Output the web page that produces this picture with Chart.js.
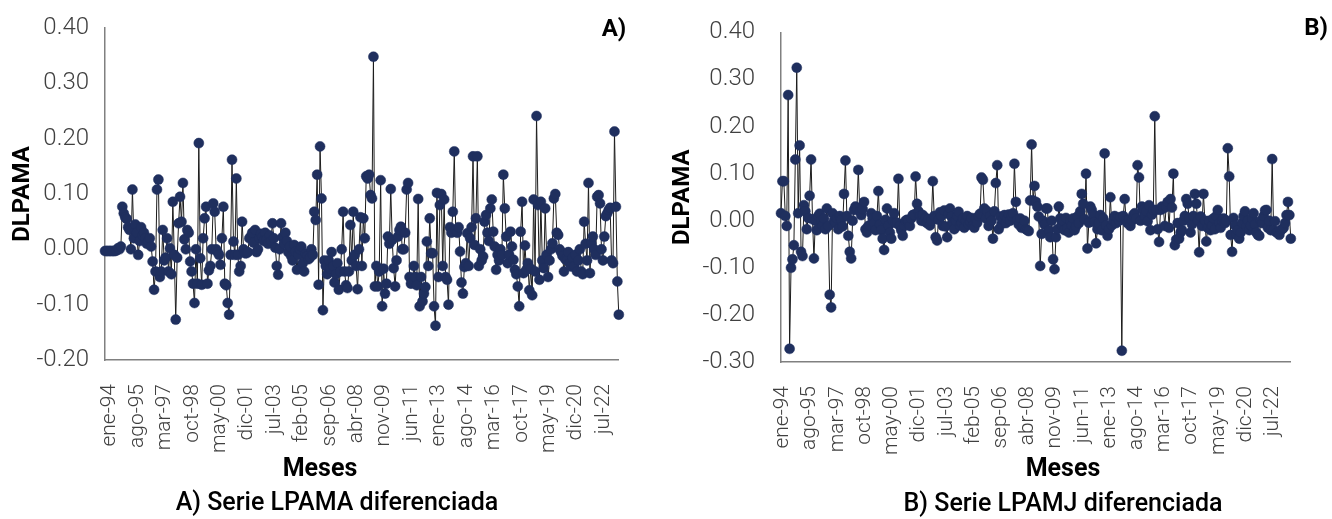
<!DOCTYPE html>
<html lang="es">
<head>
<meta charset="utf-8">
<title>Series LPAMA y LPAMJ diferenciadas</title>
<script src="https://cdn.jsdelivr.net/npm/chart.js@4.4.1/dist/chart.umd.min.js"></script>
<style>
  html, body { margin: 0; padding: 0; background: #fff; }
  body { width: 1332px; height: 519px; position: relative; overflow: hidden; font-family: Roboto, sans-serif; }
  canvas { position: absolute; top: 0; }
  #chartA { left: 0; }
  #chartB { left: 660px; }
  .txt { position: absolute; white-space: nowrap; transform: translate(-50%, -50%); color: #000; }
  .tag { font-weight: 700; font-size: 24px; }
  .meses { font-weight: 700; font-size: 25px; }
  .cap { font-weight: 500; font-size: 25px; }
</style>
</head>
<body>
<canvas id="chartA" width="660" height="519"></canvas>
<canvas id="chartB" width="672" height="519"></canvas>

<div class="txt tag" style="left:614px; top:28px;">A)</div>
<div class="txt tag" style="left:1316px; top:27px;">B)</div>
<div class="txt meses" style="left:320px; top:467px;">Meses</div>
<div class="txt meses" style="left:1063px; top:467px;">Meses</div>
<div class="txt cap" style="left:337px; top:501px;">A) Serie LPAMA diferenciada</div>
<div class="txt cap" style="left:1063px; top:502px;">B) Serie LPAMJ diferenciada</div>

<script>
// categorias: meses desde ene-94
const meses = ['ene', 'feb', 'mar', 'abr', 'may', 'jun', 'jul', 'ago', 'sep', 'oct', 'nov', 'dic'];
const anioInicio = 94;
const tickEvery = 19;

// A) serie LPAMA diferenciada
const dlpamaA = [
  -0.003, -0.003, -0.003, -0.003, -0.003, -0.003, -0.003, -0.003, -0.002, 0.002,
  0.000, 0.005, 0.077, 0.065, 0.058, 0.055, 0.040, 0.035, 0.000, 0.108,
  0.020, 0.045, 0.030, -0.010, 0.015, 0.040, 0.025, 0.030, 0.020, 0.010,
  0.015, 0.020, 0.005, -0.022, -0.073, -0.040, 0.108, 0.126, -0.050, -0.040,
  0.035, -0.020, -0.015, 0.020, -0.040, 0.002, -0.045, 0.086, -0.010, -0.127,
  -0.015, 0.047, 0.095, 0.050, 0.120, 0.018, 0.000, 0.035, 0.030, -0.022,
  -0.040, -0.062, -0.097, 0.000, -0.062, 0.192, -0.016, -0.064, 0.020, 0.056,
  0.077, -0.062, -0.038, -0.030, 0.000, 0.083, 0.068, 0.000, -0.005, -0.010,
  -0.028, 0.020, 0.077, -0.062, -0.065, -0.097, -0.118, -0.010, 0.162, 0.014,
  -0.010, 0.128, -0.010, -0.040, -0.030, 0.050, 0.000, -0.007, -0.007, -0.005,
  0.020, 0.023, 0.030, 0.012, 0.035, -0.005, 0.000, 0.020, 0.028, 0.022,
  0.015, 0.030, 0.018, 0.010, 0.025, 0.015, 0.047, 0.020, 0.003, -0.030,
  -0.046, 0.000, 0.047, 0.022, 0.010, 0.030, 0.015, -0.005, 0.005, -0.012,
  -0.020, 0.008, -0.004, -0.037, -0.010, 0.000, 0.005, -0.025, -0.040, -0.008,
  -0.012, -0.018, -0.015, 0.000, -0.010, 0.068, 0.053, 0.135, -0.064, 0.186,
  0.092, -0.110, -0.020, -0.030, -0.045, -0.020, -0.035, -0.005, -0.030, -0.060,
  -0.045, -0.025, -0.073, -0.040, 0.000, 0.068, -0.040, -0.065, -0.070, -0.040,
  0.044, -0.020, 0.068, -0.010, -0.030, -0.072, 0.000, 0.058, -0.030, 0.056,
  0.020, 0.132, 0.128, 0.135, 0.098, 0.092, 0.348, -0.067, -0.030, -0.067,
  -0.040, 0.125, -0.103, -0.035, -0.080, -0.062, 0.023, 0.010, 0.109, 0.017,
  -0.034, -0.067, -0.020, 0.023, 0.035, 0.041, 0.000, 0.000, 0.030, 0.108,
  0.120, -0.050, -0.062, -0.059, -0.030, -0.050, -0.065, 0.091, -0.103, -0.050,
  -0.094, -0.080, -0.068, 0.014, -0.030, 0.056, -0.007, -0.007, -0.103, -0.138,
  0.102, -0.050, 0.080, 0.100, -0.030, 0.090, -0.050, -0.055, -0.100, 0.040,
  0.030, 0.068, 0.177, 0.035, 0.030, 0.040, -0.004, -0.060, -0.080, -0.032,
  -0.025, 0.029, -0.030, 0.020, 0.040, 0.168, 0.008, 0.056, 0.168, -0.030,
  0.000, -0.020, -0.013, 0.050, 0.062, 0.030, 0.015, 0.074, 0.090, 0.032,
  0.005, -0.037, -0.010, -0.020, 0.000, -0.010, 0.135, 0.074, 0.023, -0.025,
  -0.010, 0.032, 0.005, -0.019, -0.037, -0.045, -0.067, -0.103, 0.032, 0.086,
  -0.043, 0.007, -0.037, -0.025, -0.074, -0.035, -0.083, 0.090, -0.040, 0.241,
  0.080, -0.055, 0.086, -0.020, -0.034, 0.074, -0.010, -0.050, -0.020, 0.000,
  0.011, 0.092, 0.100, 0.030, 0.026, 0.000, -0.005, -0.012, -0.040, -0.018,
  -0.020, -0.005, -0.025, -0.031, -0.015, -0.030, -0.010, -0.040, -0.020, 0.000,
  -0.040, -0.045, 0.050, 0.010, -0.020, 0.120, -0.043, 0.011, 0.023, 0.000,
  -0.010, 0.095, 0.098, 0.083, 0.000, -0.020, 0.023, 0.060, 0.065, 0.071,
  0.075, -0.020, -0.025, 0.213, 0.077, -0.058, -0.118
];

// B) serie LPAMJ diferenciada
const dlpamaB = [
  0.016, 0.084, 0.084, 0.010, -0.011, 0.267, -0.272, -0.100, -0.082, -0.052,
  0.130, 0.325, 0.016, 0.160, -0.066, -0.075, 0.033, 0.020, -0.018, 0.006,
  0.053, 0.130, 0.003, -0.080, 0.000, -0.020, 0.010, 0.015, 0.000, -0.010,
  0.005, -0.018, 0.026, -0.011, -0.157, -0.184, 0.016, 0.000, -0.005, 0.005,
  -0.018, 0.010, 0.002, -0.012, 0.057, 0.128, 0.010, -0.032, -0.066, -0.080,
  0.000, 0.023, 0.030, 0.026, 0.108, 0.020, 0.012, 0.025, 0.040, -0.018,
  -0.025, -0.011, -0.010, 0.016, 0.005, -0.005, -0.020, 0.010, 0.063, -0.008,
  -0.020, -0.038, -0.062, 0.002, 0.026, -0.010, -0.025, -0.038, 0.000, 0.016,
  -0.005, -0.004, 0.089, -0.011, -0.020, -0.032, -0.010, 0.000, 0.002, -0.001,
  -0.011, 0.005, 0.012, 0.013, 0.094, 0.036, 0.020, 0.010, 0.000, 0.012,
  -0.001, 0.006, -0.005, 0.003, -0.010, 0.000, 0.084, 0.010, -0.035, -0.042,
  0.002, 0.018, 0.010, -0.011, 0.022, -0.012, -0.035, 0.015, 0.026, 0.009,
  -0.004, -0.018, 0.000, 0.010, 0.019, -0.010, -0.005, 0.005, -0.015, 0.000,
  0.010, -0.008, -0.002, 0.006, -0.010, -0.015, 0.005, -0.004, 0.010, 0.015,
  0.092, 0.087, 0.026, 0.005, 0.020, -0.011, 0.010, 0.000, -0.038, 0.020,
  0.080, 0.118, -0.018, 0.009, -0.007, 0.002, 0.012, -0.005, 0.005, 0.013,
  0.000, 0.010, 0.016, 0.121, 0.040, 0.002, -0.008, 0.005, -0.015, -0.010,
  0.000, -0.018, -0.020, -0.022, 0.043, 0.162, 0.043, 0.074, 0.040, 0.030,
  0.009, -0.096, -0.028, 0.000, -0.008, 0.026, 0.026, -0.020, -0.035, 0.000,
  -0.082, -0.103, -0.035, -0.018, 0.030, 0.005, -0.010, 0.000, -0.020, 0.006,
  -0.015, -0.025, 0.000, -0.010, 0.005, -0.020, -0.012, 0.009, -0.005, 0.020,
  0.057, 0.036, 0.003, 0.100, -0.059, -0.004, 0.030, 0.023, 0.013, -0.003,
  -0.048, -0.018, -0.005, 0.012, -0.020, 0.005, 0.143, -0.010, -0.032, -0.018,
  0.050, -0.010, 0.000, 0.010, -0.005, 0.005, 0.000, 0.008, -0.276, 0.010,
  0.046, 0.000, -0.005, 0.002, -0.011, 0.000, 0.012, 0.016, 0.005, 0.118,
  0.092, 0.000, 0.030, 0.023, 0.010, 0.020, -0.001, 0.033, -0.020, 0.013,
  0.023, 0.222, 0.023, -0.018, -0.045, 0.023, 0.030, 0.026, -0.011, 0.030,
  0.040, -0.015, 0.046, 0.028, 0.100, -0.052, -0.040, -0.005, -0.038, -0.025,
  -0.020, 0.000, 0.010, 0.046, 0.036, 0.006, -0.025, -0.008, 0.010, 0.057,
  0.036, 0.000, -0.067, 0.009, -0.011, 0.057, 0.000, -0.044, -0.015, 0.000,
  -0.020, -0.010, 0.005, -0.018, 0.010, 0.023, -0.005, -0.015, 0.000, 0.005,
  -0.005, 0.000, 0.154, 0.094, -0.030, -0.066, 0.006, -0.010, -0.030, -0.020,
  -0.038, -0.025, -0.005, 0.010, 0.020, -0.012, 0.000, -0.020, -0.010, 0.005,
  0.016, -0.008, -0.025, -0.030, -0.032, 0.000, -0.005, 0.010, 0.022, 0.023,
  -0.015, 0.000, -0.020, 0.131, -0.020, -0.001, -0.025, -0.025, -0.030, -0.020,
  -0.018, -0.015, -0.005, 0.012, 0.040, 0.012, -0.038
];

const labels = dlpamaA.map((v, i) =>
  meses[i % 12] + '-' + String((anioInicio + Math.floor(i / 12)) % 100).padStart(2, '0'));

const tickFont = { family: 'Roboto', size: 24, weight: '300' };
const axisBorder = { color: '#808080', width: 1.5 };

const buildChart = (id, values, yMin, box) => {
  new Chart(document.getElementById(id), {
    type: 'line',
    data: {
      labels: labels,
      datasets: [{
        data: values,
        borderColor: '#1c1c1c',
        borderWidth: 1,
        pointRadius: 5,
        pointBackgroundColor: '#1f2f5e',
        pointBorderColor: '#1f2f5e',
        pointBorderWidth: 0.5,
        tension: 0,
        clip: false
      }]
    },
    options: {
      responsive: false,
      animation: false,
      layout: { padding: { left: 0, top: box.top, right: box.right, bottom: 39 } },
      plugins: { legend: { display: false }, tooltip: { enabled: false } },
      scales: {
        x: {
          grid: { display: false },
          border: axisBorder,
          ticks: {
            autoSkip: false,
            minRotation: 90,
            maxRotation: 90,
            padding: 16,
            labelOffset: box.labelOffset,
            color: '#404040',
            font: { family: 'Roboto', size: 21, weight: '300' },
            callback: function(v, i) { return i % tickEvery === 0 ? this.getLabelForValue(v) : ''; }
          },
          afterFit: (s) => { s.height = box.xHeight; }
        },
        y: {
          min: yMin,
          max: 0.4,
          grid: { display: false },
          border: axisBorder,
          ticks: {
            stepSize: 0.1,
            padding: box.yPad,
            color: '#404040',
            font: tickFont,
            callback: (v) => (Math.abs(v) < 1e-9 ? 0 : v).toFixed(2)
          },
          title: {
            display: true,
            text: 'DLPAMA',
            color: '#000',
            font: { family: 'Roboto', size: 24, weight: 'bold' },
            padding: { top: 9, bottom: 0 }
          },
          afterFit: (s) => { s.width = box.yWidth; }
        }
      }
    }
  });
};

buildChart('chartA', dlpamaA, -0.2, { top: 28, right: 15, xHeight: 120, yWidth: 105, yPad: 8, labelOffset: 5 });
buildChart('chartB', dlpamaB, -0.3, { top: 18, right: 6, xHeight: 118, yWidth: 121, yPad: 18, labelOffset: 2 });
</script>
</body>
</html>
